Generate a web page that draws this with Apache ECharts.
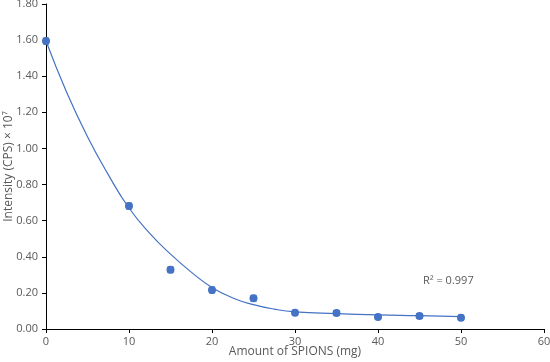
<!DOCTYPE html>
<html>
<head>
<meta charset="utf-8">
<script src="https://cdn.jsdelivr.net/npm/echarts@6/dist/echarts.min.js"></script>
<style>
  html, body { margin: 0; padding: 0; background: #fff; }
  #chart { width: 550px; height: 362px; }
</style>
</head>
<body>
<div id="chart"></div>
<script>
// measured points (mg, intensity x10^7)
var doses = [0, 10, 15, 20, 25, 30, 35, 40, 45, 50];
var intensity = [1.595, 0.681, 0.328, 0.216, 0.170, 0.090, 0.088, 0.067, 0.072, 0.063];
var errors = [0.015, 0.015, 0.015, 0.015, 0.015, 0.012, 0.012, 0.012, 0.012, 0.012];

// trendline
var fitX = [0, 2.5, 5, 7.5, 10, 12.5, 15, 17.5, 20, 22.5, 25, 27.5, 30, 35, 40, 45, 50];
var fitY = [1.595, 1.31, 1.065, 0.855, 0.67, 0.53, 0.415, 0.315, 0.23, 0.172, 0.135, 0.11, 0.095, 0.085, 0.078, 0.074, 0.068];

var xTicks = [0, 10, 20, 30, 40, 50, 60];
var r2Text = 'R² = 0.997';

var blue = '#4472C4';
var labelColor = '#595959';
var font = '"Open Sans", "Liberation Sans", sans-serif';

var chart = echarts.init(document.getElementById('chart'));

var scatterData = doses.map(function (d, i) { return [d, intensity[i]]; });
var errData = doses.map(function (d, i) { return [d, intensity[i] - errors[i], intensity[i] + errors[i]]; });
var fitData = fitX.map(function (x, i) { return [x, fitY[i]]; });

var option = {
  animation: false,
  grid: { left: 46, right: 6, top: 4, bottom: 33, containLabel: false, outerBoundsMode: 'none' },
  xAxis: {
    type: 'value',
    min: 0,
    max: 60,
    interval: 10,
    name: 'Amount of SPIONS (mg)',
    nameLocation: 'middle',
    nameGap: 17,
    nameMoveOverlap: false,
    nameTextStyle: { color: labelColor, fontSize: 12, fontFamily: font },
    axisLine: { lineStyle: { color: '#000', width: 1 } },
    axisTick: { show: true, length: 4, lineStyle: { color: '#000' } },
    axisLabel: { color: labelColor, fontSize: 11, fontFamily: font, margin: 7 },
    splitLine: { show: false }
  },
  yAxis: {
    type: 'value',
    min: 0,
    max: 1.8,
    interval: 0.2,
    name: 'Intensity (CPS) × 10⁷',
    nameLocation: 'middle',
    nameGap: 31,
    nameMoveOverlap: false,
    nameTextStyle: { color: labelColor, fontSize: 12, fontFamily: font },
    axisLine: { show: true, lineStyle: { color: '#000', width: 1 } },
    axisTick: { show: true, length: 4, lineStyle: { color: '#000' } },
    axisLabel: {
      color: labelColor, fontSize: 11, fontFamily: font, margin: 8,
      formatter: function (v) { return v.toFixed(2); }
    },
    splitLine: { show: false }
  },
  graphic: [{
    type: 'text',
    left: 423,
    top: 275,
    style: { text: r2Text, fill: labelColor, fontSize: 11, fontFamily: font }
  }],
  series: [
    {
      name: 'fit',
      type: 'line',
      data: fitData,
      smooth: 0.5,
      showSymbol: false,
      lineStyle: { color: blue, width: 1.2 },
      z: 1
    },
    {
      name: 'error',
      type: 'custom',
      data: errData,
      renderItem: function (params, api) {
        var x = api.value(0);
        var lo = api.coord([x, api.value(1)]);
        var hi = api.coord([x, api.value(2)]);
        var cap = 3;
        var st = { stroke: blue, lineWidth: 1.5 };
        return {
          type: 'group',
          children: [
            { type: 'line', shape: { x1: lo[0], y1: lo[1], x2: hi[0], y2: hi[1] }, style: st },
            { type: 'line', shape: { x1: lo[0] - cap, y1: lo[1], x2: lo[0] + cap, y2: lo[1] }, style: st },
            { type: 'line', shape: { x1: hi[0] - cap, y1: hi[1], x2: hi[0] + cap, y2: hi[1] }, style: st }
          ]
        };
      },
      z: 2
    },
    {
      name: 'data',
      type: 'scatter',
      data: scatterData,
      symbol: 'circle',
      symbolSize: 8,
      itemStyle: { color: blue, opacity: 1 },
      z: 3
    }
  ]
};

chart.setOption(option);
</script>
</body>
</html>
